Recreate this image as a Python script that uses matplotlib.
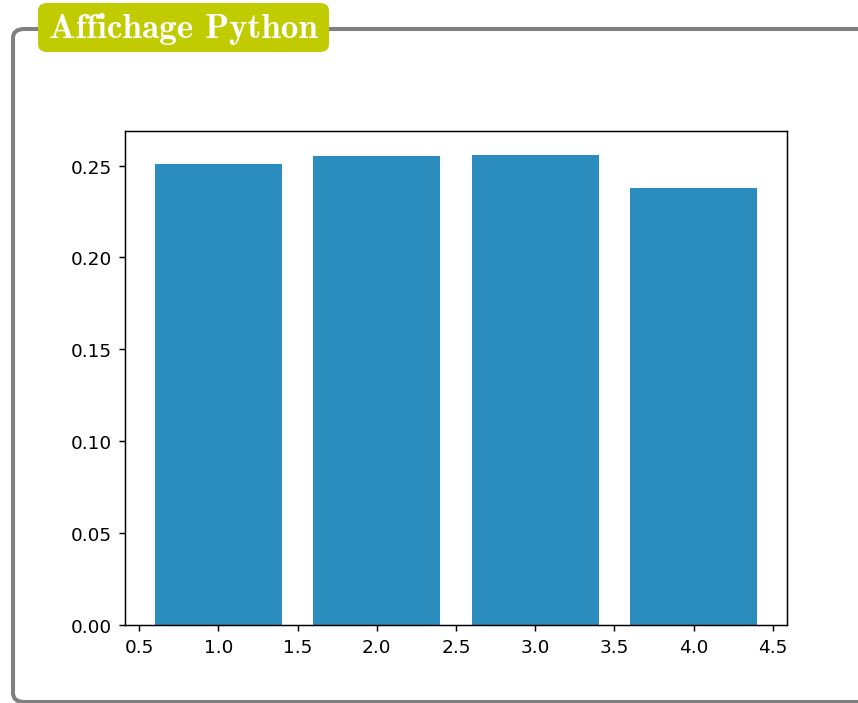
import os
import matplotlib
matplotlib.use("Agg")
import matplotlib.pyplot as plt
from matplotlib.patches import FancyBboxPatch
from matplotlib.font_manager import FontProperties

# Outcome frequencies for the four positions
positions = [1, 2, 3, 4]
frequencies = [0.251, 0.255, 0.256, 0.238]

title_text = "Affichage Python"
bar_color = "#2b8cbe"
frame_color = "#808080"
banner_color = "#c0cc00"

DPI = 133.5
W, H = 858, 704
fig = plt.figure(figsize=(W / DPI, H / DPI), dpi=DPI)

def fx(px):
    return px / W

def fy(py):
    return 1 - py / H

# Framed box with rounded corners (right side runs off the page)
frame = FancyBboxPatch((fx(13), fy(703)), fx(900) - fx(13), fy(30) - fy(703),
                       boxstyle="round,pad=0,rounding_size=0.013",
                       transform=fig.transFigure, facecolor="none",
                       edgecolor=frame_color, linewidth=2.2, clip_on=False)
fig.patches.append(frame)

# Title banner
banner = FancyBboxPatch((fx(38), fy(53)), fx(329) - fx(38), fy(4) - fy(53),
                        boxstyle="round,pad=0,rounding_size=0.011",
                        transform=fig.transFigure, facecolor=banner_color,
                        edgecolor="none", zorder=3)
fig.patches.append(banner)

cm_bold = os.path.join(matplotlib.get_data_path(), "fonts", "ttf", "cmb10.ttf")
fp = FontProperties(fname=cm_bold, size=19)
fig.text(fx(183.5), fy(38), title_text, fontproperties=fp, color="white",
         ha="center", va="baseline", zorder=4)

# Bar chart
ax = fig.add_axes([fx(125), fy(626), fx(787) - fx(125), fy(132) - fy(626)])
ax.bar(positions, frequencies, color=bar_color)

fig.savefig("out.png", dpi=DPI)
